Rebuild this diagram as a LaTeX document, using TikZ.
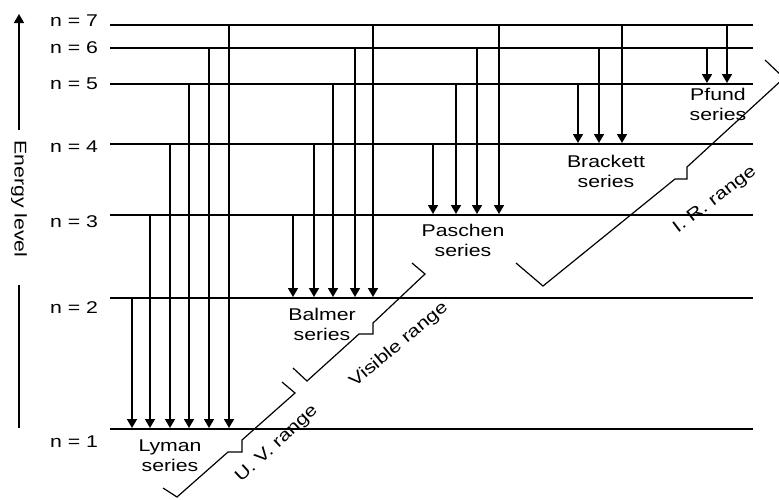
\documentclass[tikz,border=0pt]{standalone}
\usepackage{fontspec}
\setmainfont[FakeStretch=1.25]{Liberation Sans}
\usetikzlibrary{arrows.meta}

\begin{document}
\begin{tikzpicture}[x=1pt,y=-1pt,
    level/.style={line width=1.6pt},
    trans/.style={line width=1.6pt,shorten >=1pt,-{Triangle[width=10pt,length=9pt]}},
    spanline/.style={line width=1.2pt,line join=miter},
    lbl/.style={font=\fontsize{17}{20}\selectfont,inner sep=0pt,align=center}]
    \useasboundingbox (0,0) rectangle (779,499);
    \clip (0,0) rectangle (779,499);
    % energy levels
    \foreach \n/\y/\ty in {1/429/442,2/298/308,3/215/222,4/144/147,5/84/84,6/48/47.5,7/25/20.5} {
        \coordinate (n\n) at (110,\y);
        \coordinate (e\n) at (753,\y);
        \node[lbl,anchor=west] (t\n) at (50,\ty) {n = \n};
        \draw[level] (n\n) -- (e\n);
    }
    % energy axis
    \node[lbl,rotate=-90] (elabel) at (19,199) {Energy level};
    \coordinate (etop) at (19,13);
    \coordinate (ebot) at (19,428);
    \draw[trans] ([yshift=10pt]elabel.west) -- (etop);
    \draw[level] ([yshift=-27pt]elabel.east) -- (ebot);
    % transitions
    \foreach \x/\u/\l in {132/2/1,150/3/1,170/4/1,189/5/1,209/6/1,229/7/1,
                          293/3/2,314/4/2,333/5/2,355/6/2,373/7/2,
                          433/4/3,456/5/3,477/6/3,499/7/3,
                          578/5/4,599/6/4,622/7/4,
                          707/6/5,727/7/5}
        \draw[trans] (\x,0 |- n\u) -- (\x,0 |- n\l);
    % series
    \node[lbl] (lyman)    at (170,456) {Lyman\\series};
    \node[lbl] (balmer)   at (322,324) {Balmer\\series};
    \node[lbl] (paschen)  at (463,240) {Paschen\\series};
    \node[lbl] (brackett) at (606,171) {Brackett\\series};
    \node[lbl] (pfund)    at (718,104) {Pfund\\series};
    % ranges
    \draw[spanline] (163,488) -- (177,497) -- (228,452) -- (242,452) -- (242,440) -- (295,393) -- (282,382);
    \draw[spanline] (293,368) -- (307,381) -- (359,334) -- (373,334) -- (373,323) -- (425,274) -- (412,263);
    \draw[spanline] (516,263) -- (543,286) -- (675,179) -- (687,179) -- (687,167) -- (784,78) -- (765,60);
    \node[lbl,rotate=43] (uv)  at (277,444) {U. V. range};
    \node[lbl,rotate=40] (vis) at (399,345) {Visible range};
    \node[lbl,rotate=37] (ir)  at (715,200) {I. R. range};
\end{tikzpicture}
\end{document}
